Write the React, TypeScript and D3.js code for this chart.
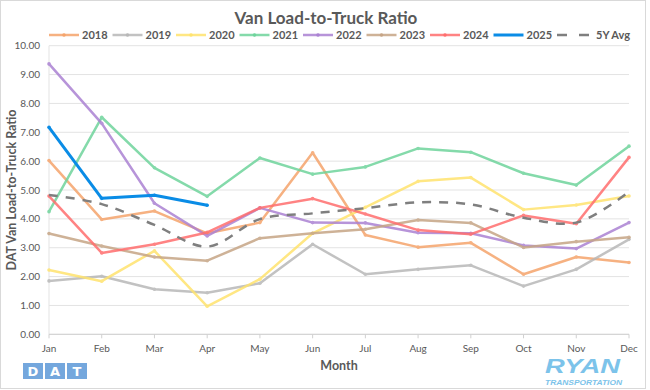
import React from "react";
import * as d3 from "d3";

const months = ["Jan", "Feb", "Mar", "Apr", "May", "Jun", "Jul", "Aug", "Sep", "Oct", "Nov", "Dec"];
const yTicks = [0, 1, 2, 3, 4, 5, 6, 7, 8, 9, 10];

const s2018 = [6.02, 3.98, 4.27, 3.5, 3.87, 6.29, 3.44, 3.02, 3.17, 2.08, 2.68, 2.49];
const s2019 = [1.85, 2.01, 1.56, 1.44, 1.77, 3.12, 2.08, 2.25, 2.39, 1.67, 2.25, 3.29];
const s2020 = [2.23, 1.84, 2.89, 0.97, 1.91, 3.5, 4.4, 5.3, 5.43, 4.32, 4.48, 4.79];
const s2021 = [4.25, 7.52, 5.77, 4.78, 6.11, 5.55, 5.8, 6.44, 6.31, 5.58, 5.17, 6.52];
const s2022 = [9.37, 7.31, 4.54, 3.41, 4.38, 3.87, 3.86, 3.52, 3.5, 3.08, 2.97, 3.87];
const s2023 = [3.49, 3.06, 2.68, 2.55, 3.33, 3.5, 3.64, 3.96, 3.86, 3.01, 3.21, 3.36];
const s2024 = [4.79, 2.82, 3.12, 3.53, 4.38, 4.7, 4.17, 3.61, 3.47, 4.12, 3.83, 6.13];
const s2025 = [7.17, 4.71, 4.82, 4.47];
const avg5 = [4.83, 4.51, 3.79, 3.04, 3.99, 4.19, 4.37, 4.57, 4.5, 4.04, 3.87, 4.94];

const seriesNames = ["2018", "2019", "2020", "2021", "2022", "2023", "2024", "2025"];
const seriesData = [s2018, s2019, s2020, s2021, s2022, s2023, s2024, s2025];
const seriesColors = ["#F5A46C", "#B8B8B8", "#FFE36E", "#6FD49C", "#AB82D3", "#C6A586", "#FF6E6E", "#0A8CE6"];

const W = 650, H = 390;
const left = 49, right = 629, top = 45.7, bottom = 334.3;
const font = "Lato, 'Open Sans', sans-serif";

export default function App() {
  const x = d3.scalePoint<string>().domain(months).range([left, right]);
  const y = d3.scaleLinear().domain([0, 10]).range([bottom, top]);
  const line = d3
    .line<number>()
    .x((_, i) => x(months[i]) as number)
    .y((d) => y(d));
  const smooth = d3
    .line<number>()
    .x((_, i) => x(months[i]) as number)
    .y((d) => y(d))
    .curve(d3.curveCatmullRom.alpha(0.5));

  const legendY = 35;
  const legendStep = 63.5;

  return (
    <div style={{ position: "fixed", left: 0, top: 0 }}>
      <svg width={W} height={H} style={{ display: "block", fontFamily: font }}>
        <rect x={0} y={0} width={W} height={H} fill="#fff" />
        <rect x={0.5} y={0.5} width={645} height={388} fill="#fff" stroke="#d9d9d9" />
        <text x={326} y={24} textAnchor="middle" fontSize={17} fontWeight={700} fill="#595959">
          Van Load-to-Truck Ratio
        </text>
        {/* legend */}
        {seriesNames.map((n, i) => {
          const lx = 49 + i * legendStep;
          return (
            <g key={n}>
              <line x1={lx} x2={lx + 30} y1={legendY} y2={legendY} stroke={seriesColors[i]} strokeWidth={i === 7 ? 3 : 2.5} opacity={i === 7 ? 1 : 0.85} />
              {i !== 7 && <circle cx={lx + 15} cy={legendY} r={1.8} fill={seriesColors[i]} />}
              <text x={lx + 33} y={legendY + 4} fontSize={11} fontWeight={700} fill="#595959">
                {n}
              </text>
            </g>
          );
        })}
        <line x1={557} x2={589} y1={legendY} y2={legendY} stroke="#7f7f7f" strokeWidth={2.5} strokeDasharray="10,12" />
        <text x={596} y={legendY + 4} fontSize={11} fontWeight={700} fill="#595959">
          5Y Avg
        </text>
        {/* gridlines */}
        {yTicks.map((t) => (
          <g key={t}>
            <line x1={left} x2={right} y1={y(t)} y2={y(t)} stroke="#e3e3e3" strokeWidth={1} />
            <text x={40} y={y(t) + 3.5} textAnchor="end" fontSize={10} fill="#595959">
              {t.toFixed(2)}
            </text>
          </g>
        ))}
        <line x1={left} x2={left} y1={top} y2={bottom} stroke="#e3e3e3" />
        <line x1={left} x2={right} y1={bottom} y2={bottom} stroke="#d0d0d0" />
        {months.map((m) => (
          <g key={m}>
            <line x1={x(m)} x2={x(m)} y1={bottom} y2={bottom + 4} stroke="#d0d0d0" />
            <text x={x(m)} y={352} textAnchor="middle" fontSize={10} fill="#595959">
              {m}
            </text>
          </g>
        ))}
        <text x={339} y={370} textAnchor="middle" fontSize={12.5} fontWeight={700} fill="#595959">
          Month
        </text>
        <text transform={`translate(16,${(top + bottom) / 2}) rotate(-90)`} textAnchor="middle" fontSize={12.5} fontWeight={700} fill="#595959">
          DAT Van Load-to-Truck Ratio
        </text>
        {/* series */}
        {seriesData.map((d, i) => (
          <g key={i} opacity={i === 7 ? 1 : 0.85}>
            <path d={line(d) || ""} fill="none" stroke={seriesColors[i]} strokeWidth={i === 7 ? 3 : 2.5} strokeLinejoin="round" />
            {d.map((v, j) => (
              <circle key={j} cx={x(months[j])} cy={y(v)} r={1.8} fill={seriesColors[i]} />
            ))}
          </g>
        ))}
        <path d={smooth(avg5) || ""} fill="none" stroke="#7f7f7f" strokeWidth={2.5} strokeDasharray="9,8" />
        {/* DAT logo */}
        {["D", "A", "T"].map((c, i) => (
          <g key={c}>
            <rect x={23 + i * 22} y={363} width={20} height={16} fill="#74A7DD" />
            <text x={33 + i * 22} y={376} textAnchor="middle" fontSize={13} fontWeight={800} fill="#fff" fontFamily="'DejaVu Sans', sans-serif">
              {c}
            </text>
          </g>
        ))}
        {/* RYAN logo */}
        <text x={545} y={373} fontSize={21} fontWeight={900} fontStyle="italic" fill="#7CC3EA" fontFamily="'Liberation Sans', Arial, sans-serif" textLength={75} lengthAdjust="spacingAndGlyphs">
          RYAN
        </text>
        <text x={545} y={384.5} fontSize={7} fontWeight={700} fontStyle="italic" fill="#7CC3EA" fontFamily="'Liberation Sans', Arial, sans-serif" textLength={77} lengthAdjust="spacingAndGlyphs">
          TRANSPORTATION
        </text>
      </svg>
    </div>
  );
}
